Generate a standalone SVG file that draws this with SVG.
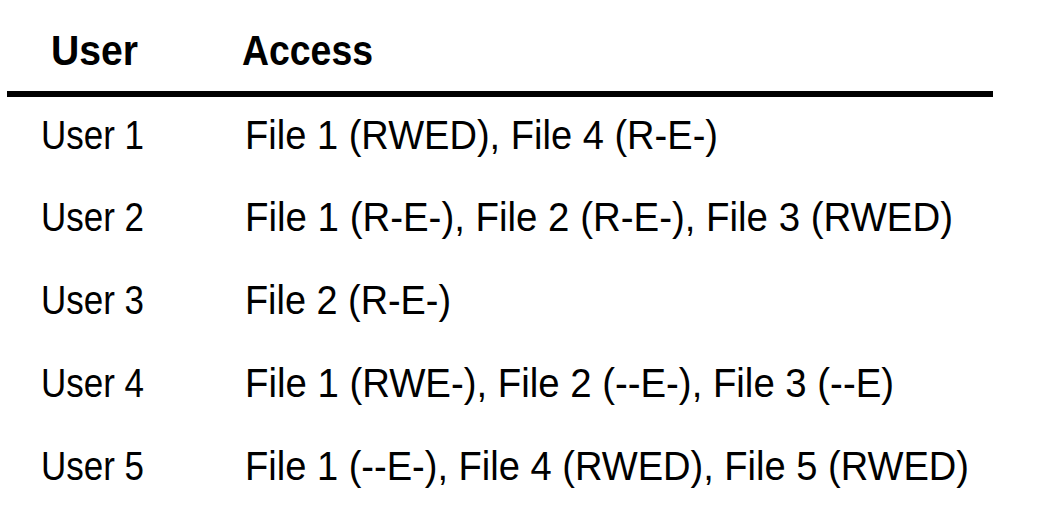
<svg xmlns="http://www.w3.org/2000/svg" width="1039" height="523" viewBox="0 0 1039 523">
<style>
.h{font-family:"Liberation Sans",Arial,sans-serif;font-size:42px;font-weight:bold;fill:#000}
.t{font-family:"Liberation Sans",Arial,sans-serif;font-size:40px;fill:#000}
</style>
<rect width="1039" height="523" fill="#fff"/>
<g id="header">
<text class="h" x="51" y="65" textLength="87" lengthAdjust="spacingAndGlyphs">User</text>
<text class="h" x="242" y="65" textLength="131" lengthAdjust="spacingAndGlyphs">Access</text>
<rect x="7" y="91" width="986" height="6" fill="#000"/>
</g>
<g id="row1">
<text class="t" x="41" y="149" textLength="103" lengthAdjust="spacingAndGlyphs">User 1</text>
<text class="t" x="245" y="149" textLength="473" lengthAdjust="spacingAndGlyphs">File 1 (RWED), File 4 (R-E-)</text>
</g>
<g id="row2">
<text class="t" x="41" y="231" textLength="103" lengthAdjust="spacingAndGlyphs">User 2</text>
<text class="t" x="245" y="231" textLength="708" lengthAdjust="spacingAndGlyphs">File 1 (R-E-), File 2 (R-E-), File 3 (RWED)</text>
</g>
<g id="row3">
<text class="t" x="41" y="314" textLength="103" lengthAdjust="spacingAndGlyphs">User 3</text>
<text class="t" x="245" y="314" textLength="206" lengthAdjust="spacingAndGlyphs">File 2 (R-E-)</text>
</g>
<g id="row4">
<text class="t" x="41" y="397" textLength="103" lengthAdjust="spacingAndGlyphs">User 4</text>
<text class="t" x="245" y="397" textLength="649" lengthAdjust="spacingAndGlyphs">File 1 (RWE-), File 2 (--E-), File 3 (--E)</text>
</g>
<g id="row5">
<text class="t" x="41" y="480" textLength="103" lengthAdjust="spacingAndGlyphs">User 5</text>
<text class="t" x="245" y="480" textLength="724" lengthAdjust="spacingAndGlyphs">File 1 (--E-), File 4 (RWED), File 5 (RWED)</text>
</g>
</svg>
